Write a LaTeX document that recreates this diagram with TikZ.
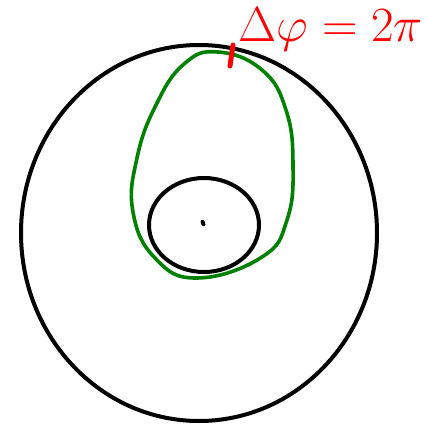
\documentclass[tikz,border=0pt]{standalone}
\usepackage{amssymb,amsfonts,amsmath}
\usepackage{tikz}
\usetikzlibrary{calc, positioning}

\begin{document}
\begin{tikzpicture}[x=1pt, y=-1pt, line cap=round, line join=round]
    \useasboundingbox (0,0) rectangle (427,428);

    % outer boundary
    \draw[color=black, line width=4pt] (199,233) ellipse [x radius=178, y radius=188];

    % inner hole
    \draw[color=black, line width=4pt] (204,225) ellipse [x radius=55, y radius=47];
    \fill[color=black] (203,223) ellipse [x radius=2.2, y radius=3.5, rotate=20];

    % loop around the hole
    \draw[color=green!50!black, line width=3.6pt] plot[smooth cycle, tension=0.75] coordinates {
        (218,52) (262,70) (286,110) (293,165) (287,220) (262,257)
        (197,278) (155,258) (133,212) (137,158) (156,105) (184,64)};

    % phase jump
    \draw[color=red, line width=5pt] (233,45) to (230,66);
    \node[color=red, font=\Huge, scale=1.98] (phase) at (331,29) {$\Delta\varphi = 2\pi$};
\end{tikzpicture}
\end{document}
